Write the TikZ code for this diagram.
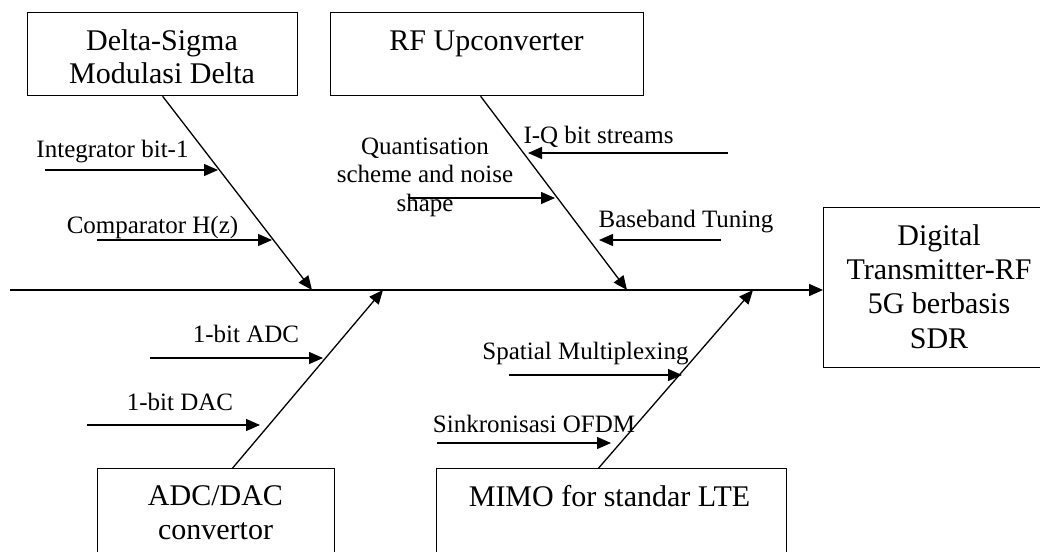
\documentclass[tikz,border=0pt]{standalone}
\usepackage{fontspec}
\setmainfont{Liberation Serif}
\usetikzlibrary{arrows.meta}

\begin{document}
\begin{tikzpicture}[x=1pt,y=-1pt,
  boxnode/.style={draw, line width=1.3pt, inner sep=0pt, anchor=north west},
  boxtext/.style={anchor=base, inner sep=0pt, align=center,
    font=\fontsize{30}{34}\selectfont},
  causetext/.style={anchor=base, inner sep=0pt, align=center,
    font=\fontsize{25}{28.5}\selectfont},
  tip/.style={-{Triangle[length=14pt,width=12pt]}},
  spine/.style={tip, line width=1.6pt},
  bone/.style={tip, line width=1.3pt},
  feeder/.style={tip, line width=1.3pt}]
\useasboundingbox (0,0) rectangle (1040,551);

% category boxes
\node[boxnode, minimum width=270pt, minimum height=83pt] (delta) at (27,12) {};
\node[boxnode, minimum width=313pt, minimum height=83pt] (rf) at (330,12) {};
\node[boxnode, minimum width=237pt, minimum height=90pt] (adc) at (97,468) {};
\node[boxnode, minimum width=350pt, minimum height=90pt] (mimo) at (436,468) {};
\node[boxnode, minimum width=232pt, minimum height=160pt] (eff) at (823,207) {};

% box captions (multi-line captions are anchored at their last baseline)
\node[boxtext, font=\fontsize{30}{33}\selectfont] (deltaT) at (162,83)
  {Delta-Sigma\\Modulasi Delta};
\node[boxtext] (rfT) at (486.5,50) {RF Upconverter};
\node[boxtext] (adcT) at (215.5,539) {ADC/DAC\\convertor};
\node[boxtext] (mimoT) at (609.5,506) {MIMO for standar LTE};
\node[boxtext, font=\fontsize{30}{34.3}\selectfont] (effT) at (939,348)
  {Digital\\Transmitter-RF\\5G berbasis\\SDR};

% spine
\coordinate (spL) at (10,290);
\draw[spine] (spL) -- (eff.west |- spL);

% junctions on the spine
\coordinate (j1) at (312,290);
\coordinate (j2) at (627,290);
\coordinate (j3) at (383,290);
\coordinate (j4) at (753,290);

% main bones
\draw[bone] (delta.south) -- (j1);
\draw[bone] ([xshift=-6.5pt]rf.south) -- (j2);
\draw[bone] ([xshift=16.5pt]adc.north) -- (j3);
\draw[bone] ([xshift=-13pt]mimo.north) -- (j4);

% feeder arrows: tails and heads
\coordinate (a1t) at (45,170);  \coordinate (a1h) at (218,170);
\coordinate (a2t) at (97,240);  \coordinate (a2h) at (272,240);
\coordinate (a3t) at (408,198); \coordinate (a3h) at (555,198);
\coordinate (a4t) at (728,153); \coordinate (a4h) at (528,153);
\coordinate (a5t) at (721,240); \coordinate (a5h) at (599,240);
\coordinate (a6t) at (150,358); \coordinate (a6h) at (323,358);
\coordinate (a7t) at (87,425);  \coordinate (a7h) at (260,425);
\coordinate (a8t) at (509,375); \coordinate (a8h) at (682,375);
\coordinate (a9t) at (437,443); \coordinate (a9h) at (611,443);

\foreach \i in {1,...,9} \draw[feeder] (a\i t) -- (a\i h);

% feeder captions
\node[causetext] (c1) at (112.5,157) {Integrator bit-1};
\node[causetext] (c2) at (152.5,233) {Comparator H(z)};
\node[causetext] (c3) at (425,211) {Quantisation\\scheme and noise\\shape};
\node[causetext] (c4) at (598.5,143) {I-Q bit streams};
\node[causetext] (c5) at (686,227) {Baseband Tuning};
\node[causetext] (c6) at (246,342) {1-bit ADC};
\node[causetext] (c7) at (180,410) {1-bit DAC};
\node[causetext] (c8) at (585.5,359) {Spatial Multiplexing};
\node[causetext] (c9) at (534,432) {Sinkronisasi OFDM};
\end{tikzpicture}
\end{document}
